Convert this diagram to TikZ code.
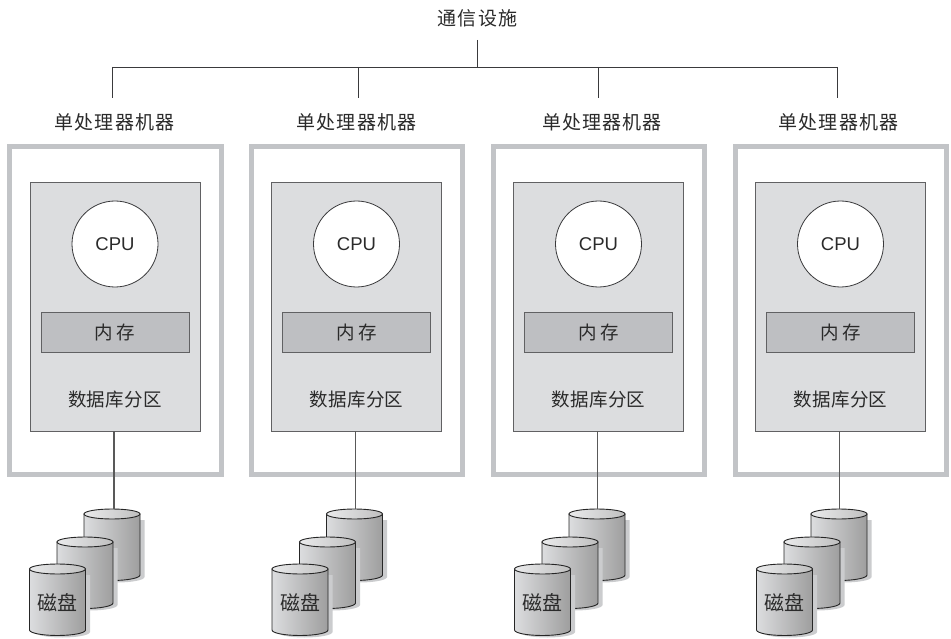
\documentclass[tikz,border=0pt]{standalone}
\usepackage{fontspec}
\setmainfont{Liberation Sans}
\newfontfamily\cjk{Noto Sans CJK SC}[Scale=1]
\usetikzlibrary{shadings}
\definecolor{framegray}{HTML}{C2C4C7}
\definecolor{panelgray}{HTML}{DCDDDF}
\definecolor{memgray}{HTML}{BEBFC2}
\definecolor{linegray}{HTML}{3A3A3C}
\definecolor{shadowgray}{HTML}{CBCCCE}
\definecolor{txtgray}{HTML}{2A2A2A}
\tikzset{
  x=1pt,y=-1pt,
  wire/.style={draw=linegray,line width=0.9pt},
  diskwire/.style={draw=black!65,line width=1.7pt},
  frame/.style={draw=framegray,line width=4.6pt,fill=white,minimum width=211.5pt,minimum height=327.5pt,inner sep=0pt},
  panel/.style={draw=linegray!80,line width=0.9pt,fill=panelgray,minimum width=170pt,minimum height=249pt,inner sep=0pt},
  cpucircle/.style={circle,draw=linegray,line width=0.8pt,fill=white,minimum size=86pt,inner sep=0pt,font=\fontsize{18.5}{18.5}\selectfont,text=txtgray},
  membox/.style={draw=linegray!80,line width=0.9pt,fill=memgray,minimum width=148pt,minimum height=40pt,inner sep=0pt,font=\cjk\fontsize{18.5}{18.5}\selectfont,text=txtgray},
  cjklabel/.style={inner sep=0pt,font=\cjk\fontsize{19}{19}\selectfont\addfontfeatures{LetterSpace=6},text=txtgray},
  partlabel/.style={inner sep=0pt,font=\cjk\fontsize{18.5}{18.5}\selectfont\addfontfeatures{LetterSpace=2},text=txtgray},
  disklabel/.style={inner sep=0pt,font=\cjk\fontsize{20}{20}\selectfont,text=txtgray},
  diskbody/.style={draw=black!85,line width=0.9pt,left color=panelgray,right color=black!38},
  disktop/.style={draw=black!85,line width=0.9pt,left color=panelgray!60!white,right color=black!25},
  diskshadow/.style={fill=shadowgray,draw=none},
}
% #1 = name of the coordinate at the top, #2,#3 = left x and centre y of the top ellipse
\newcommand{\onedisk}[3]{%
  \fill[diskshadow] (#2+5,#3+6) -- (#2+60.5,#3+6) -- (#2+60.5,#3+63)
     arc[start angle=0,end angle=180,x radius=27.75,y radius=5.5] -- cycle;
  \path[diskbody] (#2,#3) -- (#2,#3+61) arc[start angle=180,end angle=0,x radius=28,y radius=5.5] -- (#2+56,#3) -- cycle;
  \path[disktop] (#2+28,#3) ellipse[x radius=28,y radius=5];
  \coordinate (#1) at (#2+28,#3-5);
}
\begin{document}
\begin{tikzpicture}
\useasboundingbox (0,0) rectangle (951,639);
\node[cjklabel] (top) at (477.5,18) {通信设施};
\coordinate (bus) at (477,67);
\coordinate (stem) at (477,40);
\draw[wire] (stem) -- (bus);
\foreach \i/\dx/\ddx/\dropx/\labx in {1/0/0/112.5/114.5,2/241.5/242.5/358.5/356.5,3/483.5/485/598/602,4/725.5/727/837.5/838.5}{
  \coordinate (dropT\i) at (\dropx,67);
  \coordinate (dropB\i) at (\dropx,98);
  \draw[wire] (dropT\i) -- (dropB\i);
  \node[cjklabel] (lab\i) at (\labx,122) {单处理器机器};
  \node[frame] (frame\i) at (115.5+\dx,310.5) {};
  \node[panel] (panel\i) at (115+\dx,306.5) {};
  \node[cpucircle] (cpu\i) at (115+\dx,244) {CPU};
  \node[membox] (mem\i) at (115+\dx,332) {内\hspace{4pt}存};
  \node[partlabel] (part\i) at (115+\dx,400) {数据库分区};
  \onedisk{back\i}{84+\ddx}{514}
  \onedisk{mid\i}{57+\ddx}{542}
  \onedisk{front\i}{29.5+\ddx}{569}
  \node[disklabel] (disk\i) at (57.5+\ddx,603) {磁盘};
  \draw[diskwire] ([xshift=-1]panel\i.south) -- ([xshift=-1]panel\i.south |- back\i);
}
\draw[wire] (dropT1) -- (dropT4);
\end{tikzpicture}
\end{document}
